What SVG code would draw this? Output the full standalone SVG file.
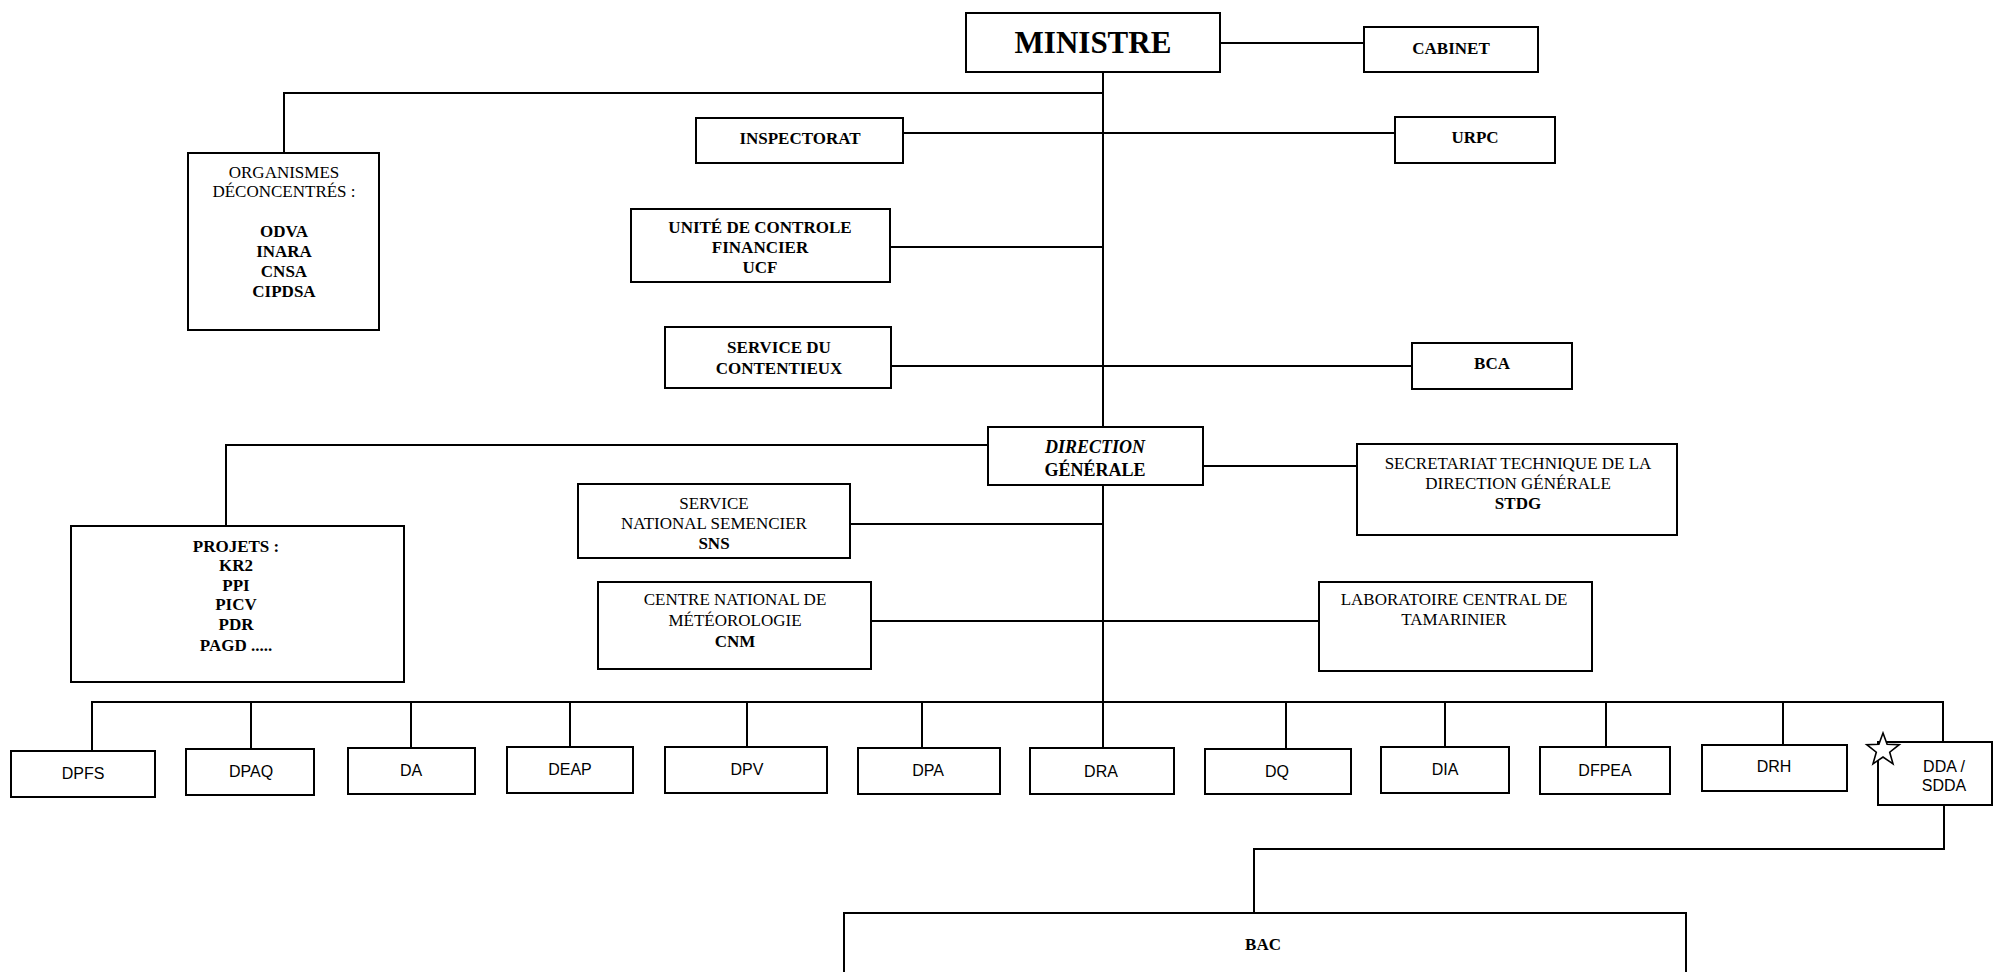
<svg xmlns="http://www.w3.org/2000/svg" width="1996" height="972" viewBox="0 0 1996 972">
<style>
.box{fill:#fff;stroke:#000;stroke-width:2}
.ln{fill:none;stroke:#000;stroke-width:2}
.t{font-family:"Liberation Serif","Times New Roman",serif;font-size:17px;text-anchor:middle;fill:#000}
.b{font-weight:bold}
.s{font-family:"Liberation Sans",Arial,sans-serif;font-size:16px;text-anchor:middle;fill:#000}
.star{fill:#fff;stroke:#000;stroke-width:1.6}
</style>
<rect width="1996" height="972" fill="#fff"/>
<g id="connectors">
<path class="ln" d="M1103,72 V748"/>
<path class="ln" d="M1220,43 H1364"/>
<path class="ln" d="M1103,93 H284 V153"/>
<path class="ln" d="M903,133 H1395"/>
<path class="ln" d="M890,247 H1103"/>
<path class="ln" d="M891,366 H1412"/>
<path class="ln" d="M988,445 H226 V526"/>
<path class="ln" d="M1203,466 H1357"/>
<path class="ln" d="M850,524 H1103"/>
<path class="ln" d="M871,621 H1319"/>
<path class="ln" d="M92,751 V702 H1943 V742"/>
<path class="ln" d="M251,702 V749"/>
<path class="ln" d="M411,702 V748"/>
<path class="ln" d="M570,702 V747"/>
<path class="ln" d="M747,702 V747"/>
<path class="ln" d="M922,702 V748"/>
<path class="ln" d="M1286,702 V749"/>
<path class="ln" d="M1445,702 V747"/>
<path class="ln" d="M1606,702 V747"/>
<path class="ln" d="M1783,702 V745"/>
<path class="ln" d="M1944,805 V849 H1254 V913"/>
</g>
<g id="ministre"><rect class="box" x="966" y="13" width="254" height="59"/><text class="t b" x="1093" y="53" style="font-size:31px">MINISTRE</text></g>
<g id="cabinet"><rect class="box" x="1364" y="27" width="174" height="45"/><text class="t b" x="1451" y="54">CABINET</text></g>
<g id="organismes"><rect class="box" x="188" y="153" width="191" height="177"/>
<text class="t" x="284" y="178">ORGANISMES</text>
<text class="t" x="284" y="197">DÉCONCENTRÉS :</text>
<text class="t b" x="284" y="237">ODVA</text>
<text class="t b" x="284" y="257">INARA</text>
<text class="t b" x="284" y="277">CNSA</text>
<text class="t b" x="284" y="297">CIPDSA</text></g>
<g id="inspectorat"><rect class="box" x="696" y="118" width="207" height="45"/><text class="t b" x="800" y="144">INSPECTORAT</text></g>
<g id="urpc"><rect class="box" x="1395" y="117" width="160" height="46"/><text class="t b" x="1475" y="143">URPC</text></g>
<g id="ucf"><rect class="box" x="631" y="209" width="259" height="73"/>
<text class="t b" x="760" y="233">UNITÉ DE CONTROLE</text>
<text class="t b" x="760" y="253">FINANCIER</text>
<text class="t b" x="760" y="273">UCF</text></g>
<g id="contentieux"><rect class="box" x="665" y="327" width="226" height="61"/>
<text class="t b" x="779" y="353">SERVICE DU</text>
<text class="t b" x="779" y="374">CONTENTIEUX</text></g>
<g id="bca"><rect class="box" x="1412" y="343" width="160" height="46"/><text class="t b" x="1492" y="369">BCA</text></g>
<g id="direction-generale"><rect class="box" x="988" y="427" width="215" height="58"/>
<text class="t b" x="1095" y="453" style="font-style:italic;font-size:18px">DIRECTION</text>
<text class="t b" x="1095" y="476" style="font-size:18px">GÉNÉRALE</text></g>
<g id="stdg"><rect class="box" x="1357" y="444" width="320" height="91"/>
<text class="t" x="1518" y="469">SECRETARIAT TECHNIQUE DE LA</text>
<text class="t" x="1518" y="489">DIRECTION GÉNÉRALE</text>
<text class="t b" x="1518" y="509">STDG</text></g>
<g id="projets"><rect class="box" x="71" y="526" width="333" height="156"/>
<text class="t b" x="236" y="552">PROJETS :</text>
<text class="t b" x="236" y="571">KR2</text>
<text class="t b" x="236" y="591">PPI</text>
<text class="t b" x="236" y="610">PICV</text>
<text class="t b" x="236" y="630">PDR</text>
<text class="t b" x="236" y="651">PAGD .....</text></g>
<g id="sns"><rect class="box" x="578" y="484" width="272" height="74"/>
<text class="t" x="714" y="509">SERVICE</text>
<text class="t" x="714" y="529">NATIONAL SEMENCIER</text>
<text class="t b" x="714" y="549">SNS</text></g>
<g id="cnm"><rect class="box" x="598" y="582" width="273" height="87"/>
<text class="t" x="735" y="605">CENTRE NATIONAL DE</text>
<text class="t" x="735" y="626">MÉTÉOROLOGIE</text>
<text class="t b" x="735" y="647">CNM</text></g>
<g id="laboratoire"><rect class="box" x="1319" y="582" width="273" height="89"/>
<text class="t" x="1454" y="605">LABORATOIRE CENTRAL DE</text>
<text class="t" x="1454" y="625">TAMARINIER</text></g>
<g id="dpfs"><rect class="box" x="11" y="751" width="144" height="46"/><text class="s" x="83" y="779">DPFS</text></g>
<g id="dpaq"><rect class="box" x="186" y="749" width="128" height="46"/><text class="s" x="251" y="777">DPAQ</text></g>
<g id="da"><rect class="box" x="348" y="748" width="127" height="46"/><text class="s" x="411" y="776">DA</text></g>
<g id="deap"><rect class="box" x="507" y="747" width="126" height="46"/><text class="s" x="570" y="775">DEAP</text></g>
<g id="dpv"><rect class="box" x="665" y="747" width="162" height="46"/><text class="s" x="747" y="775">DPV</text></g>
<g id="dpa"><rect class="box" x="858" y="748" width="142" height="46"/><text class="s" x="928" y="776">DPA</text></g>
<g id="dra"><rect class="box" x="1030" y="748" width="144" height="46"/><text class="s" x="1101" y="777">DRA</text></g>
<g id="dq"><rect class="box" x="1205" y="749" width="146" height="45"/><text class="s" x="1277" y="777">DQ</text></g>
<g id="dia"><rect class="box" x="1381" y="747" width="128" height="46"/><text class="s" x="1445" y="775">DIA</text></g>
<g id="dfpea"><rect class="box" x="1540" y="747" width="130" height="47"/><text class="s" x="1605" y="776">DFPEA</text></g>
<g id="drh"><rect class="box" x="1702" y="745" width="145" height="46"/><text class="s" x="1774" y="772">DRH</text></g>
<g id="dda-sdda"><rect class="box" x="1878" y="742" width="114" height="63"/>
<polygon class="star" points="1883,733 1887.1,744.3 1899.2,744.7 1889.7,752.2 1893,763.8 1883,757 1873,763.8 1876.3,752.2 1866.8,744.7 1878.9,744.3"/>
<text class="s" x="1944" y="772">DDA /</text>
<text class="s" x="1944" y="791">SDDA</text></g>
<g id="bac"><rect class="box" x="844" y="913" width="842" height="80"/><text class="t b" x="1263" y="950">BAC</text></g>
</svg>
